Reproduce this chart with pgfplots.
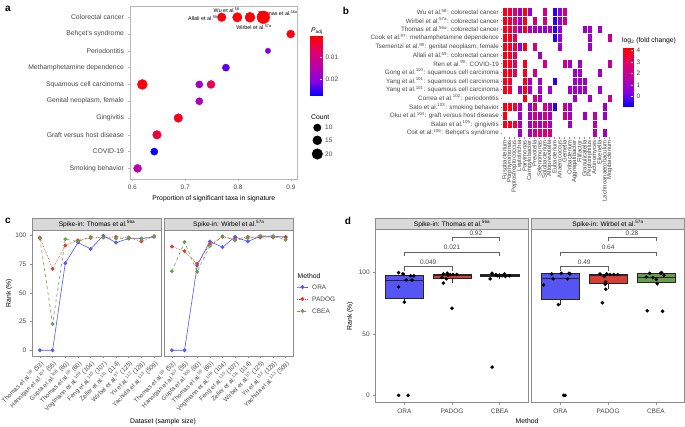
\documentclass[border=0pt]{standalone}
\usepackage{fontspec}
\setmainfont{Liberation Sans}
\usepackage{pgfplots}
\pgfplotsset{compat=1.18}
\usepgfplotslibrary{statistics}
\newcommand\fs[1]{\fontsize{#1}{#1}\selectfont}
\definecolor{oraC}{RGB}{85,85,245}
\definecolor{padC}{RGB}{215,62,52}
\definecolor{cbeC}{RGB}{108,155,82}
\definecolor{frameC}{RGB}{140,140,140}
\definecolor{frameA}{RGB}{185,185,185}
\definecolor{tickC}{RGB}{70,70,70}
\definecolor{stripC}{RGB}{217,217,217}
\pgfplotsset{
 colormap={bluered}{rgb255=(0,0,255) rgb255=(135,0,225) rgb255=(185,0,165) rgb255=(225,0,105) rgb255=(255,0,0)},
 colormap={redblue}{rgb255=(255,0,0) rgb255=(225,0,105) rgb255=(185,0,165) rgb255=(135,0,225) rgb255=(0,0,255)},
 myax/.style={scale only axis, anchor=south west, clip=false,
   /pgf/number format/assume math mode=true,
   scaled x ticks=false, scaled y ticks=false,
   tick label style={font=\fs{6.5}, text=tickC},
   axis line style={frameC, line width=0.5pt},
   tick style={frameC, line width=0.5pt},
   major tick length=2.5pt, tick align=outside,
   xtick pos=bottom, ytick pos=left},
}
\begin{document}
\begin{tikzpicture}
\path[use as bounding box] (0pt,0pt) rectangle (685pt,427pt);

% ---------------- panel a ----------------
\begin{axis}[myax, at={(130pt,248pt)}, width=167.7pt, height=172.3pt,
  xmin=0.5957, xmax=0.9127, ymin=0.37, ymax=10.63, y dir=reverse,
  xtick={0.6,0.7,0.8,0.9}, xticklabels={0.6,0.7,0.8,0.9},
  ytick={1,2,3,4,5,6,7,8,9,10},
  yticklabels={Colorectal cancer, Behçet's syndrome, Periodontitis, Methamphetamine dependence, Squamous cell carcinoma, {Genital neoplasm, female}, Gingivitis, Graft versus host disease, COVID-19, Smoking behavior},
  yticklabel style={font=\fs{6.8}},
  xlabel={Proportion of significant taxa in signature}, xlabel style={font=\fs{6.8}, yshift=1pt},
  axis line style={frameA}, tick style={frameA},
  colormap name=redblue, point meta min=0.0003, point meta max=0.0276]
\addplot[scatter, only marks, mark=*, point meta=explicit,
  scatter/use mapped color={draw=mapped color, fill=mapped color},
  visualization depends on={\thisrow{r} \as \rad},
  scatter/@pre marker code/.append style={/tikz/mark size=\rad pt}]
  table[x=x, y=y, meta=p] {
x y p r
0.7690 1 0.0012 4.3
0.7985 1 0.0008 4.7
0.8225 1 0.0008 5.0
0.8477 1 0.0005 6.3
0.8994 2 0.0012 4.0
0.8565 3 0.0210 2.7
0.7770 4 0.0230 3.6
0.6190 5 0.0012 5.0
0.7267 5 0.0170 3.6
0.7488 5 0.0060 4.0
0.7267 6 0.0160 3.6
0.6870 7 0.0020 4.3
0.6467 8 0.0040 4.3
0.6416 9 0.0270 3.6
0.6100 10 0.0140 4.0
};
\node[font=\fs{5.4}, anchor=east, inner sep=0pt] at (axis cs:0.7615,1.06) {Allali et al.\textsuperscript{59}};
\node[font=\fs{5.4}, inner sep=0pt] at (axis cs:0.7785,0.56) {Wu et al.\textsuperscript{58}};
\node[font=\fs{5.4}, inner sep=0pt] at (axis cs:0.875,0.73) {Thomas et al.\textsuperscript{56a}};
\node[font=\fs{5.4}, inner sep=0pt] at (axis cs:0.830,1.6) {Wirbel et al.\textsuperscript{57a}};
\end{axis}

% colorbar a
\begin{axis}[myax, at={(310pt,331pt)}, width=12pt, height=60pt,
  xmin=0, xmax=1, ymin=0.0003, ymax=0.0276, y dir=reverse, view={0}{90},
  xtick=\empty, ytick={0.01,0.02}, yticklabels={0.01,0.02},
  yticklabel pos=right, ytick pos=right,
  axis line style={draw=none}, tick style={white, line width=0.5pt}, tick align=inside, major tick length=2pt,
  colormap name=redblue, point meta min=0.0003, point meta max=0.0276]
\addplot3[surf, shader=interp, point meta=y, mesh/rows=2] coordinates {(0,0.0003,0) (1,0.0003,0) (0,0.0276,0) (1,0.0276,0)};
\end{axis}

% ---------------- panel b ----------------
\begin{axis}[myax, at={(502pt,289.9pt)}, width=110pt, height=129.5pt,
  xmin=-0.5, xmax=21.5, ymin=-0.5, ymax=14.5, y dir=reverse,
  xtick={0,...,21},
  xticklabels={Fusobacterium, Porphyromonas, Peptostreptococcus, Leptotrichia, Parvimonas, Campylobacter, Prevotella, Selenomonas, Solobacterium, Alloprevotella, Eubacterium, Anaerococcus, Gemella, Oribacterium, Aggregatibacter, Filifactor, Granulicatella, Peptoniphilus, Actinomyces, Eikenella, Lachnoanaerobaculum, Mogibacterium},
  xticklabel style={rotate=90, anchor=east, font=\fs{6}, inner sep=1.5pt},
  ytick={0,...,14},
  yticklabels={{Wu et al.\textsuperscript{58}: colorectal cancer},
   {Wirbel et al.\textsuperscript{57a}: colorectal cancer},
   {Thomas et al.\textsuperscript{56a}: colorectal cancer},
   {Cook et al.\textsuperscript{97}: methamphetamine dependence},
   {Tsementzi et al.\textsuperscript{98}: genital neoplasm, female},
   {Allali et al.\textsuperscript{59}: colorectal cancer},
   {Ren et al.\textsuperscript{99}: COVID-19},
   {Gong et al.\textsuperscript{100}: squamous cell carcinoma},
   {Yang et al.\textsuperscript{101}: squamous cell carcinoma},
   {Yang et al.\textsuperscript{101}: squamous cell carcinoma},
   {Correa et al.\textsuperscript{102}: periodontitis},
   {Sato et al.\textsuperscript{103}: smoking behavior},
   {Oku et al.\textsuperscript{104}: graft versus host disease},
   {Balan et al.\textsuperscript{105}: gingivitis},
   {Coit et al.\textsuperscript{106}: Behçet's syndrome}},
  yticklabel style={font=\fs{6.3}, inner sep=1.5pt},
  axis line style={draw=none}, major tick length=1.5pt,
  colormap name=bluered, point meta min=-0.9, point meta max=4.23]
\addplot[scatter, only marks, mark=square*, mark size=2.5pt, mark options={yscale=1.727, line width=0.25pt},
  point meta=explicit,
  scatter/use mapped color={draw=white, fill=mapped color}]
  table[x=c, y=r, meta=v] {
c r v
0 0 4
1 0 3.6
2 0 3.0
3 0 1
4 0 4
5 0 1
8 0 2.5
10 0 -0.5
11 0 0.8
12 0 2.2
0 1 4
1 1 3.6
2 1 3.0
3 1 1
4 1 4
6 1 2.5
8 1 2.5
10 1 -0.5
11 1 0.8
12 1 2.2
0 2 4
1 2 3.6
2 2 3.0
3 2 1
4 2 4
5 2 1.2
6 2 1.2
7 2 1
8 2 0.7
9 2 1.5
10 2 -0.5
11 2 0.5
16 2 1
17 2 1
19 2 1
0 3 4
1 3 3.8
2 3 3.3
10 3 -0.5
11 3 1
17 3 1
21 3 2
0 4 4
1 4 3.8
2 4 3.2
3 4 1
4 4 4
6 4 2.5
11 4 1
17 4 1
0 5 4
1 5 3.8
2 5 3.2
7 5 1
0 6 4
1 6 3.8
2 6 3.2
4 6 4
8 6 2.5
12 6 2.2
13 6 1
15 6 1
21 6 2
0 7 4
1 7 3.8
2 7 3.2
4 7 4
6 7 2.5
14 7 1
15 7 1
19 7 1
0 8 4
1 8 3.6
4 8 4
5 8 1
7 8 1
10 8 -0.5
14 8 1
15 8 1
16 8 1
0 9 4
1 9 3.6
3 9 1
4 9 4
5 9 1
7 9 1
9 9 1
13 9 1
14 9 1
15 9 1
16 9 1
19 9 1
4 10 4
6 10 2.5
7 10 1
14 10 1
17 10 1
21 10 2
0 11 4
1 11 4
2 11 3.6
3 11 1
5 11 1
6 11 2.5
8 11 2.5
9 11 1.2
10 11 -0.5
12 11 2.2
13 11 1
20 11 1
0 12 4
3 12 1
5 12 1.2
6 12 2.5
7 12 1
8 12 2.5
9 12 1.2
12 12 2.2
13 12 1
16 12 1
18 12 1.8
20 12 1
0 13 4
1 13 3.8
2 13 3.6
3 13 1
5 13 1.2
6 13 2.5
7 13 1.3
8 13 2.5
9 13 1.2
13 13 1
18 13 1.8
3 14 1
5 14 1.2
6 14 2.5
7 14 2.3
8 14 2.8
9 14 2.2
18 14 1.8
20 14 1
};
\end{axis}

% colorbar b
\begin{axis}[myax, at={(623pt,320pt)}, width=10pt, height=59pt,
  xmin=0, xmax=1, ymin=-0.9, ymax=4.23, view={0}{90},
  xtick=\empty, ytick={0,1,2,3,4}, yticklabels={0,1,2,3,4},
  yticklabel pos=right, ytick pos=right,
  axis line style={draw=none}, tick style={white, line width=0.5pt}, tick align=inside, major tick length=2pt,
  colormap name=bluered, point meta min=-0.9, point meta max=4.23]
\addplot3[surf, shader=interp, point meta=y, mesh/rows=2] coordinates {(0,-0.9,0) (1,-0.9,0) (0,4.23,0) (1,4.23,0)};
\end{axis}

% ---------------- panel c ----------------
\begin{axis}[myax, at={(32.3pt,71pt)}, width=129.4pt, height=126pt,
  xmin=0.4, xmax=10.6, ymin=-5, ymax=105,
  xtick={1,...,10}, ytick={0,25,50,75,100},
  xticklabels={{Thomas et al.\textsuperscript{56} (53)},{Hannigan et al.\textsuperscript{107} (55)},{Gupta et al.\textsuperscript{108} (60)},{Thomas et al.\textsuperscript{56} (60)},{Vogtmann et al.\textsuperscript{109} (104)},{Feng et al.\textsuperscript{110} (107)},{Zeller et al.\textsuperscript{111} (114)},{Wirbel et al.\textsuperscript{57} (125)},{Yu et al.\textsuperscript{112} (128)},{Yachida et al.\textsuperscript{113} (509)}},
  xticklabel style={rotate=45, anchor=north east, font=\fs{6.2}, inner sep=1pt}]
\addplot[oraC, line width=0.6pt, mark=*, mark size=1.6pt] coordinates {(1,0) (2,0) (3,76) (4,94) (5,88.5) (6,100) (7,94) (8,97.5) (9,97.5) (10,99)};
\addplot[padC, line width=0.6pt, densely dotted, mark=*, mark size=1.6pt, mark options={solid}] coordinates {(1,98.5) (2,71) (3,91.5) (4,96) (5,98) (6,98.5) (7,99) (8,98.5) (9,95) (10,99.5)};
\addplot[cbeC, line width=0.6pt, dashed, mark=*, mark size=1.6pt, mark options={solid}] coordinates {(1,97.5) (2,23) (3,97) (4,95) (5,99) (6,98.5) (7,97.5) (8,98) (9,97.5) (10,99.5)};
\end{axis}

\begin{axis}[myax, at={(164.3pt,71pt)}, width=129pt, height=126pt,
  xmin=0.4, xmax=10.6, ymin=-5, ymax=105,
  xtick={1,...,10}, ytick=\empty,
  xticklabels={{Thomas et al.\textsuperscript{56} (53)},{Hannigan et al.\textsuperscript{107} (55)},{Gupta et al.\textsuperscript{108} (60)},{Thomas et al.\textsuperscript{56} (60)},{Vogtmann et al.\textsuperscript{109} (104)},{Feng et al.\textsuperscript{110} (107)},{Zeller et al.\textsuperscript{111} (114)},{Wirbel et al.\textsuperscript{57} (125)},{Yu et al.\textsuperscript{112} (128)},{Yachida et al.\textsuperscript{113} (509)}},
  xticklabel style={rotate=45, anchor=north east, font=\fs{6.2}, inner sep=1pt}]
\addplot[oraC, line width=0.6pt, mark=*, mark size=1.6pt] coordinates {(1,0) (2,0) (3,74) (4,95) (5,90) (6,99) (7,95) (8,99.5) (9,99.5) (10,99)};
\addplot[padC, line width=0.6pt, densely dotted, mark=*, mark size=1.6pt, mark options={solid}] coordinates {(1,90.5) (2,86.5) (3,75.5) (4,92.5) (5,99) (6,97) (7,99) (8,98.5) (9,98.5) (10,98.5)};
\addplot[cbeC, line width=0.6pt, dashed, mark=*, mark size=1.6pt, mark options={solid}] coordinates {(1,69) (2,94.5) (3,68.5) (4,91) (5,99.5) (6,96) (7,98) (8,100) (9,99.5) (10,96.5)};
\end{axis}

% ---------------- panel d ----------------
\pgfplotsset{boxd/.style={boxplot/draw direction=y, boxplot/every median/.style={line width=1.1pt}, draw=black!85, line width=0.5pt}}
\begin{axis}[myax, at={(375.7pt,24.3pt)}, width=152.6pt, height=173.4pt,
  xmin=0.4, xmax=3.6, ymin=-6, ymax=135.4,
  xtick={1,2,3}, xticklabels={ORA,PADOG,CBEA}, ytick={0,50,100}]
\addplot[boxd, fill=oraC, boxplot prepared={draw position=1, lower whisker=76, lower quartile=79, median=94, upper quartile=97.8, upper whisker=100, box extend=0.8, whisker extend=0}] coordinates {};
\addplot[boxd, fill=padC, boxplot prepared={draw position=2, lower whisker=91.5, lower quartile=95.2, median=97.8, upper quartile=98.9, upper whisker=99.5, box extend=0.8, whisker extend=0}] coordinates {};
\addplot[boxd, fill=cbeC, boxplot prepared={draw position=3, lower whisker=95, lower quartile=97.1, median=97.8, upper quartile=98.9, upper whisker=99.5, box extend=0.8, whisker extend=0}] coordinates {};
\addplot[only marks, mark=*, mark size=1.6pt, black] coordinates {(0.88,100) (0.97,99) (1.13,97.5) (1.2,97.5) (1.04,94) (1.16,94) (0.88,88.5) (1.0,76) (0.88,0) (1.08,0)
 (1.82,99) (1.9,99.5) (1.96,98.5) (2.1,98.5) (2.02,98.5) (1.79,96) (1.88,95) (1.82,91.5) (2.0,71) (1.92,98)
 (2.84,99.5) (2.92,98.5) (3.0,98) (3.12,97) (3.2,97.5) (3.05,97.5) (2.96,97.5) (2.8,95) (3.1,99) (2.84,23)};
\addplot[frameC!70!black, line width=0.5pt] coordinates {(1,101.6) (1,104.9) (2,104.9) (2,101.6)};
\addplot[frameC!70!black, line width=0.5pt] coordinates {(1,113.6) (1,116.6) (3,116.6) (3,113.6)};
\addplot[frameC!70!black, line width=0.5pt] coordinates {(2,125.8) (2,128.8) (3,128.8) (3,125.8)};
\node[font=\fs{6.5}, text=tickC] at (axis cs:1.5,108.6) {0.049};
\node[font=\fs{6.5}, text=tickC] at (axis cs:2,120.4) {0.021};
\node[font=\fs{6.5}, text=tickC] at (axis cs:2.5,132.4) {0.92};
\end{axis}

\begin{axis}[myax, at={(531.7pt,24.3pt)}, width=152.8pt, height=173.4pt,
  xmin=0.4, xmax=3.6, ymin=-6, ymax=135.4,
  xtick={1,2,3}, xticklabels={ORA,PADOG,CBEA}, ytick=\empty]
\addplot[boxd, fill=oraC, boxplot prepared={draw position=1, lower whisker=74, lower quartile=78, median=95, upper quartile=99.4, upper whisker=99.5, box extend=0.8, whisker extend=0}] coordinates {};
\addplot[boxd, fill=padC, boxplot prepared={draw position=2, lower whisker=86.5, lower quartile=91, median=97.5, upper quartile=98.9, upper whisker=99, box extend=0.8, whisker extend=0}] coordinates {};
\addplot[boxd, fill=cbeC, boxplot prepared={draw position=3, lower whisker=91, lower quartile=91.9, median=96.2, upper quartile=99.5, upper whisker=100, box extend=0.8, whisker extend=0}] coordinates {};
\addplot[only marks, mark=*, mark size=1.6pt, black] coordinates {(0.82,99) (1.02,99.5) (1.18,99.5) (0.65,90) (0.85,95) (1.15,95) (0.96,74) (1.07,0) (1.10,0) (1.2,99)
 (1.83,99) (1.97,99) (2.04,98.5) (2.12,98.5) (2.2,98.5) (1.92,97) (1.95,92.5) (1.94,90.5) (1.95,86.5) (1.88,75.5)
 (2.87,99.5) (3.12,100) (3.17,98) (2.8,96.5) (2.94,96) (3.01,94.5) (3.03,91) (2.82,69) (3.14,68.5) (3.1,99.5)};
\addplot[frameC!70!black, line width=0.5pt] coordinates {(1,101.6) (1,104.9) (2,104.9) (2,101.6)};
\addplot[frameC!70!black, line width=0.5pt] coordinates {(1,113.6) (1,116.6) (3,116.6) (3,113.6)};
\addplot[frameC!70!black, line width=0.5pt] coordinates {(2,125.8) (2,128.8) (3,128.8) (3,125.8)};
\node[font=\fs{6.5}, text=tickC] at (axis cs:1.5,108.6) {0.49};
\node[font=\fs{6.5}, text=tickC] at (axis cs:2,120.4) {0.64};
\node[font=\fs{6.5}, text=tickC] at (axis cs:2.5,132.4) {0.28};
\end{axis}

% ---------------- overlay (pixel coordinates) ----------------
\begin{axis}[at={(0pt,0pt)}, anchor=south west, scale only axis, width=685pt, height=427pt,
  xmin=0, xmax=685, ymin=0, ymax=427, y dir=reverse, hide axis, clip=false]
% panel letters
\node[font=\bfseries\fs{10}] at (axis cs:8,9) {a};
\node[font=\bfseries\fs{10}] at (axis cs:346,11) {b};
\node[font=\bfseries\fs{10}] at (axis cs:8,221) {c};
\node[font=\bfseries\fs{10}] at (axis cs:348,221) {d};
% panel a legend titles
\node[font=\fs{6.8}, anchor=west, inner sep=0pt] at (axis cs:311,31) {\textit{P}\textsubscript{adj}};
\node[font=\fs{6.8}, anchor=west, inner sep=0pt] at (axis cs:311,116.7) {Count};
\addplot[only marks, mark=*, mark size=3.7pt, black] coordinates {(317.3,127.7)};
\addplot[only marks, mark=*, mark size=4.5pt, black] coordinates {(317.3,140.3)};
\addplot[only marks, mark=*, mark size=5.3pt, black] coordinates {(317.3,154)};
\node[font=\fs{6.5}, text=tickC, anchor=west, inner sep=0pt] at (axis cs:325,127.7) {10};
\node[font=\fs{6.5}, text=tickC, anchor=west, inner sep=0pt] at (axis cs:325,140.3) {15};
\node[font=\fs{6.5}, text=tickC, anchor=west, inner sep=0pt] at (axis cs:325,154) {20};
% panel b legend title
\node[font=\fs{6.8}, anchor=west, inner sep=0pt] at (axis cs:622,41) {log\textsubscript{2} (fold change)};
% panel c strips and labels
\draw[fill=stripC, draw=frameC, line width=0.5pt] (axis cs:32.3,218.3) rectangle (axis cs:161.7,230);
\draw[fill=stripC, draw=frameC, line width=0.5pt] (axis cs:164.3,218.3) rectangle (axis cs:293.3,230);
\node[font=\fs{6.6}] at (axis cs:97,224.4) {Spike-in: Thomas et al.\textsuperscript{56a}};
\node[font=\fs{6.6}] at (axis cs:228.8,224.4) {Spike-in: Wirbel et al.\textsuperscript{57a}};
\node[font=\fs{6.8}, rotate=90] at (axis cs:9,293) {Rank (\%)};
\node[font=\fs{6.8}] at (axis cs:163,421.5) {Dataset (sample size)};
% panel c legend
\node[font=\fs{6.8}, anchor=west, inner sep=0pt] at (axis cs:297.5,276) {Method};
\addplot[oraC, line width=0.6pt, mark=*, mark size=1.6pt, mark repeat=2, mark phase=2] coordinates {(297,287) (302.5,287) (308,287)};
\addplot[padC, line width=0.6pt, densely dotted, mark=*, mark size=1.6pt, mark options={solid}, mark repeat=2, mark phase=2] coordinates {(297,299) (302.5,299) (308,299)};
\addplot[cbeC, line width=0.6pt, dashed, mark=*, mark size=1.6pt, mark options={solid}, mark repeat=2, mark phase=2] coordinates {(297,311) (302.5,311) (308,311)};
\node[font=\fs{6.5}, text=tickC, anchor=west, inner sep=0pt] at (axis cs:312,287) {ORA};
\node[font=\fs{6.5}, text=tickC, anchor=west, inner sep=0pt] at (axis cs:312,299) {PADOG};
\node[font=\fs{6.5}, text=tickC, anchor=west, inner sep=0pt] at (axis cs:312,311) {CBEA};
% panel d strips and labels
\draw[fill=stripC, draw=frameC, line width=0.5pt] (axis cs:375.7,218.3) rectangle (axis cs:528.3,229.3);
\draw[fill=stripC, draw=frameC, line width=0.5pt] (axis cs:531.7,218.3) rectangle (axis cs:684.5,229.3);
\node[font=\fs{6.6}] at (axis cs:452,223.9) {Spike-in: Thomas et al.\textsuperscript{56a}};
\node[font=\fs{6.6}] at (axis cs:608,223.9) {Spike-in: Wirbel et al.\textsuperscript{57a}};
\node[font=\fs{6.8}, rotate=90] at (axis cs:350,316) {Rank (\%)};
\node[font=\fs{6.8}] at (axis cs:527,421) {Method};
\end{axis}
\end{tikzpicture}
\end{document}
